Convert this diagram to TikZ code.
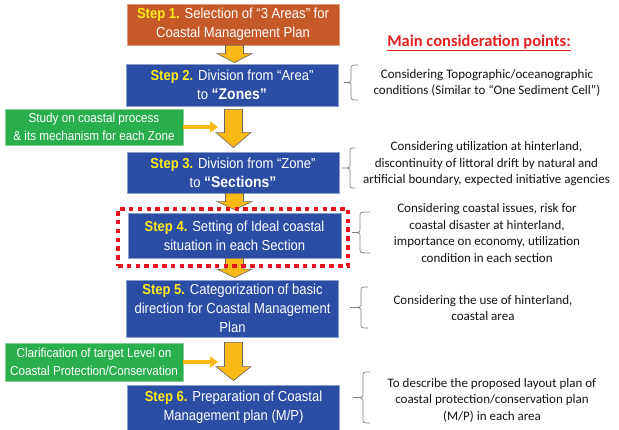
\documentclass[tikz,border=0pt]{standalone}
\usepackage{fontspec}
\setmainfont{Liberation Sans}[FakeStretch=0.9]
\newfontfamily\calib{Carlito}
\usetikzlibrary{calc,arrows.meta}
\definecolor{stepblue}{HTML}{2B4EA4}
\definecolor{steporange}{HTML}{C55A28}
\definecolor{studygreen}{HTML}{2BAE4E}
\definecolor{stepyellow}{HTML}{FFEB1A}
\definecolor{arrowfill}{HTML}{FBB915}
\definecolor{focusred}{HTML}{E8141E}
\definecolor{titlered}{HTML}{E52222}
\newcommand\stp[1]{\textcolor{stepyellow}{\textbf{Step #1.}}}
\newcommand\blockarrow[3]{%
  \filldraw[barrow] let \p1=#1, \p2=#2 in
   (\x1-9pt,\y1) -- (\x1+9pt,\y1) -- (\x1+9pt,\y2+#3) -- (\x1+17.5pt,\y2+#3)
   -- (\x1,\y2) -- (\x1-17.5pt,\y2+#3) -- (\x1-9pt,\y2+#3) -- cycle;}
\newcommand\cbrace[5]{% xv, xe, tip, top, bottom
  \draw[bracestyle] (#2,#4) .. controls (#1,#4) .. (#1,#4+5) -- (#1,{(#4+#5)/2-4})
   .. controls (#1,{(#4+#5)/2}) .. (#3,{(#4+#5)/2})
   .. controls (#1,{(#4+#5)/2}) .. (#1,{(#4+#5)/2+4}) -- (#1,#5-5)
   .. controls (#1,#5) .. (#2,#5);}
\tikzset{
  stepbox/.style={fill=stepblue, draw=stepblue!55!white, line width=0.8pt, text=white,
    align=center, minimum width=212pt, inner sep=0pt, font=\fontsize{14.5}{18.8}\selectfont},
  studybox/.style={fill=studygreen, draw=studygreen!60!white, line width=0.6pt, text=white,
    align=center, minimum width=178pt, inner sep=0pt, font=\fontsize{13}{17.5}\selectfont},
  note/.style={align=center, font=\calib\fontsize{13}{16.6}\selectfont, text=black!92, inner sep=0pt},
  barrow/.style={fill=arrowfill, draw=black!60, line width=0.6pt},
  sidearrow/.style={draw=arrowfill, line width=3.5pt, -{Triangle[length=8pt,width=11pt]}},
  bracestyle/.style={draw=black!50, line width=0.7pt},
  focusbox/.style={draw=focusred, line width=3.5pt, dash pattern=on 4.5pt off 4.3pt,
    minimum width=230pt, minimum height=57pt, inner sep=0pt},
}
\begin{document}
\begin{tikzpicture}[x=1pt,y=-1pt]
\useasboundingbox (0,0) rectangle (619,430);
% step boxes
\node[stepbox, fill=steporange, draw=steporange!60!white, minimum height=41pt] (s1) at (233,24.5)
  {\stp{1} Selection of “3 Areas” for\\Coastal Management Plan};
\node[stepbox, minimum height=42pt] (s2) at (232,85)
  {\stp{2} Division from “Area”\\to \textbf{\fontsize{15.5}{18.8}\selectfont“Zones”}};
\node[stepbox, minimum height=41pt] (s3) at (233,172.5)
  {\stp{3} Division from “Zone”\\to \textbf{\fontsize{15.5}{18.8}\selectfont“Sections”}};
\node[stepbox, minimum width=213pt, minimum height=45pt] (s4) at (234.5,235.5)
  {\stp{4} Setting of Ideal coastal\\situation in each Section};
\node[stepbox, minimum height=57pt] (s5) at (232.5,308.5)
  {\stp{5} Categorization of basic\\direction for Coastal Management\\Plan};
\node[stepbox, minimum height=45pt] (s6) at (233.5,407.5)
  {\stp{6} Preparation of Coastal\\Management plan (M/P)};
% study boxes
\node[studybox, minimum height=36pt] (g1) at (94,127)
  {Study on coastal process\\\& its mechanism for each Zone};
\node[studybox, minimum height=38pt] (g2) at (94,362)
  {Clarification of target Level on\\Coastal Protection/Conservation};
% block arrows
\blockarrow{($(s1.south)+(1.5pt,0pt)$)}{($(s2.north)+(0pt,1pt)$)}{9pt}
\blockarrow{($(s2.south)+(1.5pt,-3pt)$)}{($(s3.north)+(0pt,4pt)$)}{15pt}
\blockarrow{($(s3.south)+(1.5pt,0pt)$)}{($(s4.north)+(0pt,3pt)$)}{8pt}
\blockarrow{($(s4.south)+(0pt,0pt)$)}{($(s5.north)+(0pt,2pt)$)}{8.5pt}
\blockarrow{($(s5.south)+(1pt,-5pt)$)}{($(s6.north)+(0pt,4pt)$)}{14pt}
% side arrows
\coordinate (ga1) at (218,127);
\coordinate (ga2) at (218,362);
\draw[sidearrow] (g1.east) -- (ga1);
\draw[sidearrow] (g2.east) -- (ga2);
% focus frame
\node[focusbox] (focus) at (233,237.5) {};
% title
\node[text=titlered, inner sep=0pt] (title) at (479,43)
  {\calib\bfseries\fontsize{16.5}{18}\selectfont\underline{Main consideration points:}};
% notes
\node[note] (n1) at (487,83)
  {Considering Topographic/oceanographic\\conditions (Similar to “One Sediment Cell”)};
\node[note] (n2) at (486.5,164)
  {Considering utilization at hinterland,\\discontinuity of littoral drift by natural and\\artificial boundary, expected initiative agencies};
\node[note] (n3) at (487,233)
  {Considering coastal issues, risk for\\coastal disaster at hinterland,\\importance on economy, utilization\\condition in each section};
\node[note] (n4) at (483,308)
  {Considering the use of hinterland,\\coastal area};
\node[note] (n5) at (492,400)
  {To describe the proposed layout plan of\\coastal protection/conservation plan\\(M/P) in each area};
% braces
\cbrace{351}{358}{344}{65}{100}
\cbrace{350}{355}{342}{148}{188}
\cbrace{360}{370}{352}{212}{253}
\cbrace{361}{368}{350}{287}{328}
\cbrace{363}{370}{353}{372}{423}
\end{tikzpicture}
\end{document}
